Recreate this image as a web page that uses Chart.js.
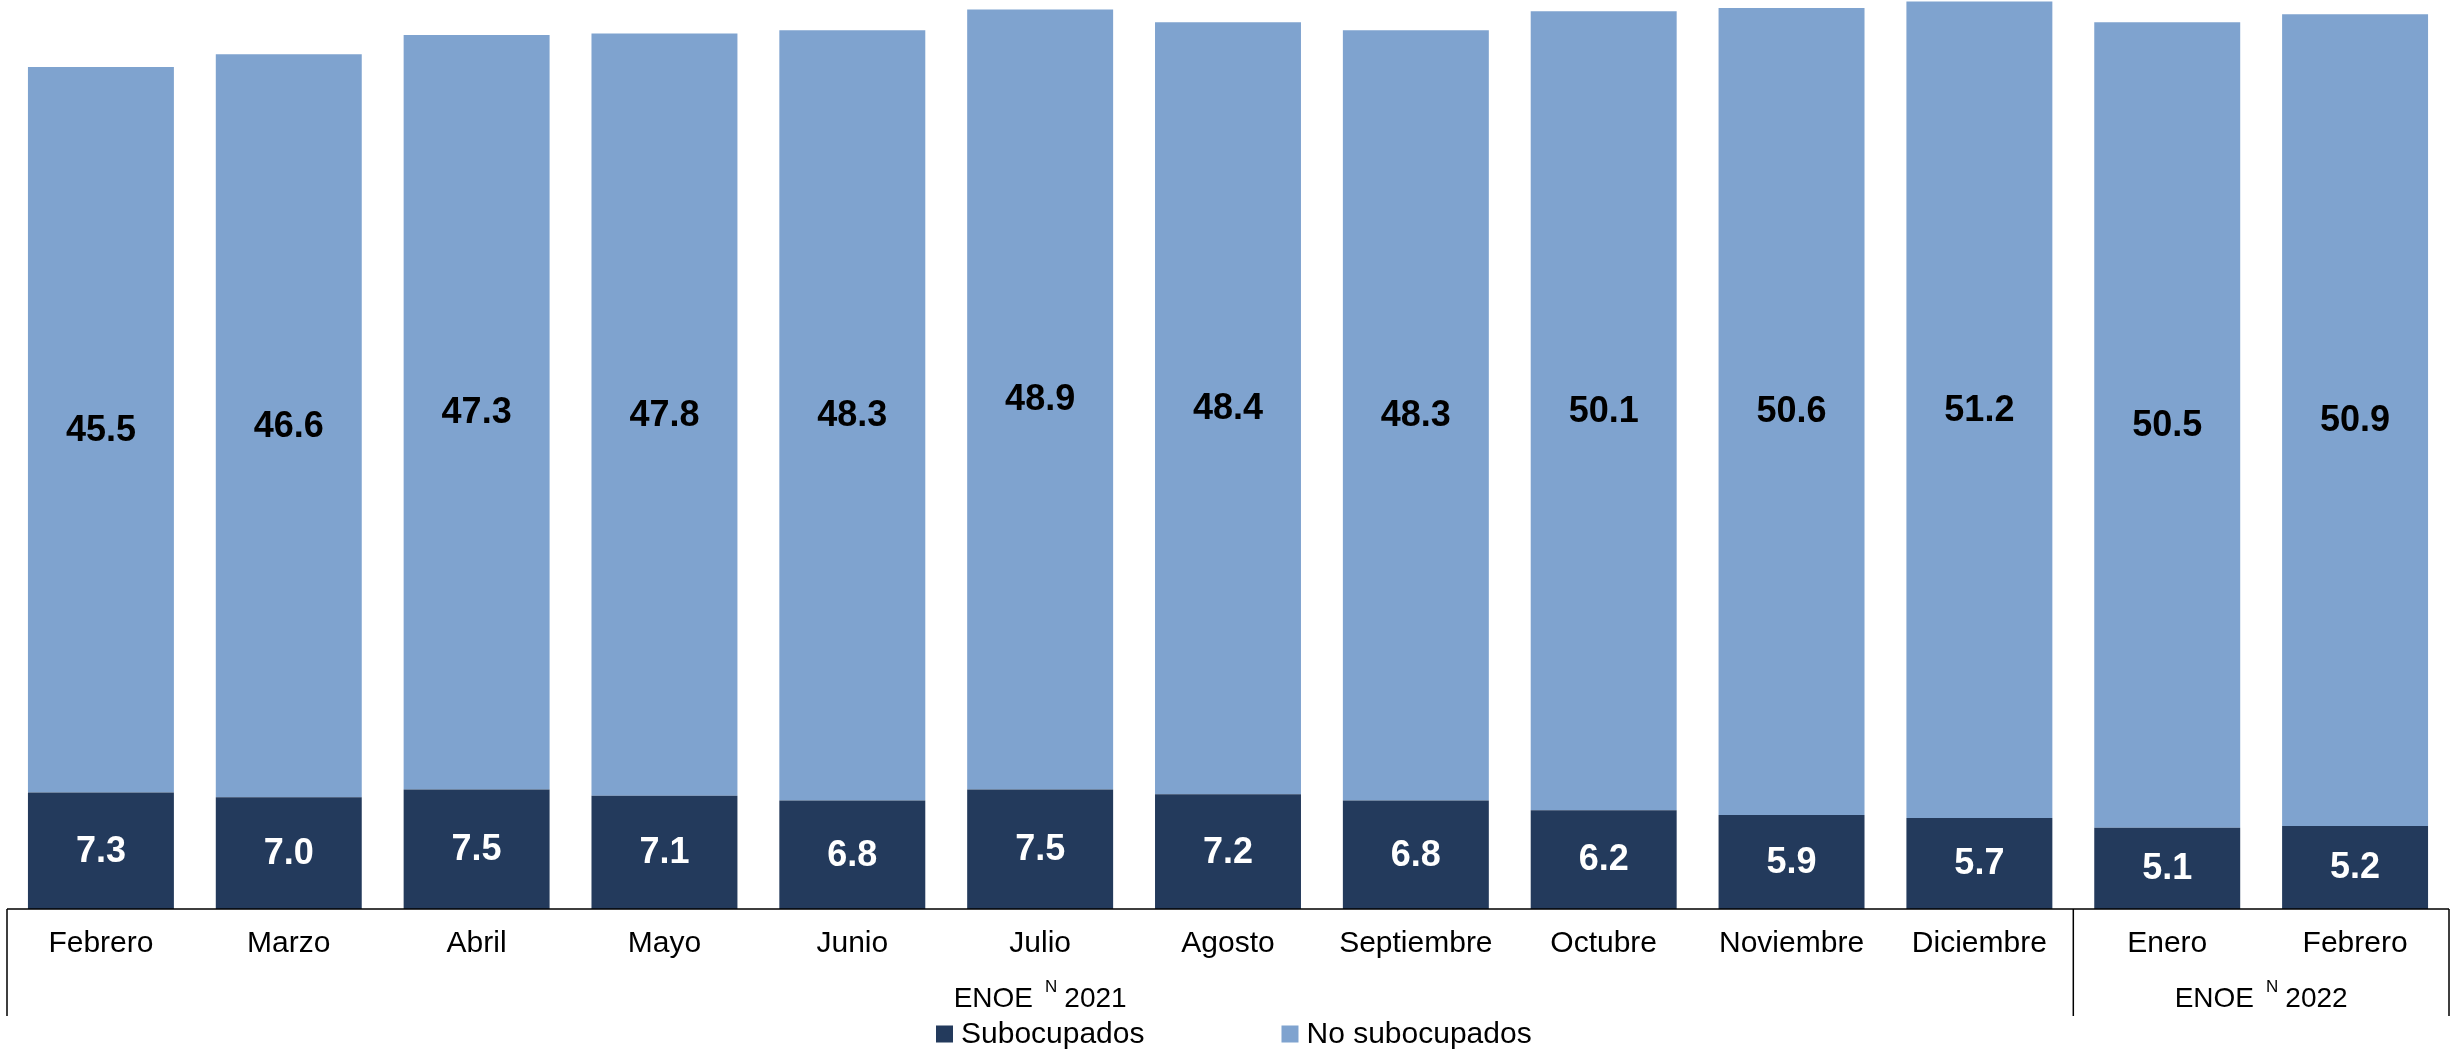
<!DOCTYPE html>
<html><head><meta charset="utf-8">
<script src="https://cdn.jsdelivr.net/npm/chart.js@4/dist/chart.umd.min.js"></script>
<style>html,body{margin:0;padding:0;background:#fff;overflow:hidden}</style>
</head><body>
<canvas id="c" width="2463" height="1052" style="display:block;width:2463px;height:1052px"></canvas>
<script>
const categories = ['Febrero','Marzo','Abril','Mayo','Junio','Julio','Agosto','Septiembre','Octubre','Noviembre','Diciembre','Enero','Febrero'];
const subocupados = [7.3,7.0,7.5,7.1,6.8,7.5,7.2,6.8,6.2,5.9,5.7,5.1,5.2];
const noSubocupados = [45.5,46.6,47.3,47.8,48.3,48.9,48.4,48.3,50.1,50.6,51.2,50.5,50.9];
const groupPrefix = 'ENOE';
const groupSup = 'N';
const groupYears = ['2021','2022'];
const groupSizes = [11,2];
const seriesNames = ['Subocupados','No subocupados'];

const FONT = '"Liberation Sans", Arial, Helvetica, sans-serif';
const DARK = '#233A5C';
const LIGHT = '#7FA3CF';

const valueLabels = {
  id: 'valueLabels',
  afterDatasetsDraw(chart) {
    const ctx = chart.ctx;
    ctx.save();
    ctx.font = 'bold 36px ' + FONT;
    ctx.textAlign = 'center';
    ctx.textBaseline = 'middle';
    chart.data.datasets.forEach((ds, di) => {
      const meta = chart.getDatasetMeta(di);
      ctx.fillStyle = di === 0 ? '#ffffff' : '#000000';
      meta.data.forEach((el, i) => {
        const p = el.getProps(['x','y','base'], true);
        ctx.fillText(ds.data[i].toFixed(1), p.x, (p.y + p.base) / 2 + 1);
      });
    });
    ctx.restore();
  }
};

const axisFrame = {
  id: 'axisFrame',
  afterDraw(chart) {
    const ctx = chart.ctx;
    const xs = chart.scales.x;
    const yb = chart.chartArea.bottom;
    const yEnd = 1016;
    const n = categories.length;
    ctx.save();
    ctx.strokeStyle = '#000';
    ctx.lineWidth = 1.5;
    ctx.beginPath();
    ctx.moveTo(xs.left, yb);
    ctx.lineTo(xs.right, yb);
    const bounds = [xs.left];
    let idx = 0;
    groupSizes.forEach(s => {
      idx += s;
      bounds.push(idx < n ? (xs.getPixelForValue(idx - 1) + xs.getPixelForValue(idx)) / 2 : xs.right);
    });
    bounds.forEach(b => { ctx.moveTo(b, yb); ctx.lineTo(b, yEnd); });
    ctx.stroke();

    // group labels
    ctx.fillStyle = '#000';
    ctx.textBaseline = 'alphabetic';
    ctx.textAlign = 'left';
    const baseY = 1007;
    groupYears.forEach((yr, g) => {
      const cx = (bounds[g] + bounds[g + 1]) / 2;
      ctx.font = '28px ' + FONT;
      const w1 = ctx.measureText(groupPrefix).width;
      const w3 = ctx.measureText(yr).width;
      ctx.font = '17px ' + FONT;
      const w2 = ctx.measureText(groupSup).width;
      const gap1 = 12, gap2 = 7;
      const total = w1 + gap1 + w2 + gap2 + w3;
      let x = cx - total / 2;
      ctx.font = '28px ' + FONT;
      ctx.fillText(groupPrefix, x, baseY);
      x += w1 + gap1;
      ctx.font = '17px ' + FONT;
      ctx.fillText(groupSup, x, baseY - 15);
      x += w2 + gap2;
      ctx.font = '28px ' + FONT;
      ctx.fillText(yr, x, baseY);
    });

    // legend
    const ly = 1034;
    let lx = 936;
    ctx.font = '30px ' + FONT;
    ctx.textBaseline = 'middle';
    chart.data.datasets.forEach((ds, di) => {
      ctx.fillStyle = ds.backgroundColor;
      ctx.fillRect(lx, ly - 8.5, 17, 17);
      ctx.fillStyle = '#000';
      ctx.fillText(ds.label, lx + 25, ly + 1);
      lx += 25 + ctx.measureText(ds.label).width + 137;
    });
    ctx.restore();
  }
};

new Chart(document.getElementById('c'), {
  type: 'bar',
  data: {
    labels: categories,
    datasets: [
      { label: seriesNames[0], data: subocupados, backgroundColor: DARK, borderWidth: 0 },
      { label: seriesNames[1], data: noSubocupados, backgroundColor: LIGHT, borderWidth: 0 }
    ]
  },
  options: {
    responsive: false,
    animation: false,
    devicePixelRatio: 1,
    layout: { padding: { left: 7, right: 14, top: 0, bottom: 0 } },
    datasets: { bar: { barPercentage: 0.777, categoryPercentage: 1.0 } },
    plugins: { legend: { display: false }, tooltip: { enabled: false } },
    scales: {
      x: {
        stacked: true,
        grid: { display: false, drawTicks: false },
        border: { display: false },
        ticks: { color: '#000', font: { family: FONT, size: 30, lineHeight: 1.2 }, padding: 17, maxRotation: 0, autoSkip: false },
        afterFit(scale) { scale.height = 143; }
      },
      y: { stacked: true, display: false, min: 0, max: 57 }
    }
  },
  plugins: [valueLabels, axisFrame]
});
</script>
</body></html>
